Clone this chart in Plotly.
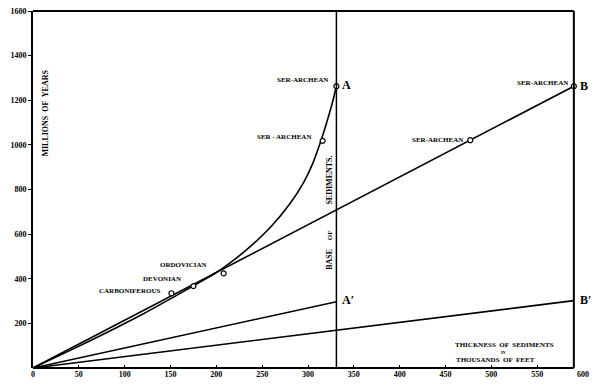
import plotly.graph_objects as go

# ---- data ----
x_ticks = [0, 50, 100, 150, 200, 250, 300, 350, 400, 450, 500, 550, 600]
y_ticks = [200, 400, 600, 800, 1000, 1200, 1400, 1600]

curve_x = [0, 40, 80, 120, 150, 180, 200, 220, 240, 260, 280, 295, 305, 313, 320, 326, 331]
curve_y = [0, 78, 158, 242, 310, 380, 428, 487, 555, 635, 735, 830, 915, 1005, 1095, 1180, 1263]

lineB_x = [0, 590]
lineB_y = [0, 1263]
lineA2_x = [0, 331]
lineA2_y = [0, 297]
lineB2_x = [0, 590]
lineB2_y = [0, 302]

pts_x = [151, 175, 208, 316, 331, 477, 590]
pts_y = [335, 367, 424, 1018, 1263, 1021, 1263]

base_x = 331
frame_right = 590
x_max = 600
y_max = 1600

FONT = "Liberation Serif"
fig = go.Figure()
lw = 1.6
for xs, ys, shape in [(curve_x, curve_y, "spline"), (lineB_x, lineB_y, "linear"),
                      (lineA2_x, lineA2_y, "linear"), (lineB2_x, lineB2_y, "linear")]:
    fig.add_trace(go.Scatter(x=xs, y=ys, mode="lines",
                             line=dict(color="black", width=lw, shape=shape, smoothing=0.8),
                             hoverinfo="skip", showlegend=False))
fig.add_trace(go.Scatter(x=pts_x, y=pts_y, mode="markers",
                         marker=dict(symbol="circle", size=5, color="white", line=dict(color="black", width=1.2)),
                         showlegend=False, cliponaxis=False))

# frame (paper refs so the edges are not clipped) and base line
fr = frame_right / x_max
shapes = [
    dict(type="line", xref="paper", yref="paper", x0=0, x1=fr, y0=1, y1=1, line=dict(color="black", width=2)),
    dict(type="line", xref="paper", yref="paper", x0=0, x1=fr, y0=0, y1=0, line=dict(color="black", width=2)),
    dict(type="line", xref="paper", yref="paper", x0=fr, x1=fr, y0=0, y1=1, line=dict(color="black", width=2)),
    dict(type="line", xref="x", yref="y", x0=base_x, x1=base_x, y0=0, y1=y_max, line=dict(color="black", width=1.5)),
]

def ann(text, x, y, size=7, xanchor="center", angle=0):
    return dict(text=text, x=x, y=y, xref="x", yref="y", showarrow=False, xanchor=xanchor,
                yanchor="middle", textangle=angle,
                font=dict(family=FONT, size=size, color="black", weight="bold"))

annotations = [
    ann("SER-ARCHEAN", 324, 1289, xanchor="right"),
    ann("A", 335, 1270, size=12, xanchor="left"),
    ann("SER - ARCHEAN", 305, 1035, xanchor="right"),
    ann("SER-ARCHEAN", 586, 1277, xanchor="right"),
    ann("B", 594, 1265, size=12, xanchor="left"),
    ann("SER-ARCHEAN", 471, 1023, xanchor="right"),
    ann("ORDOVICIAN", 164, 463),
    ann("DEVONIAN", 141, 400),
    ann("CARBONIFEROUS", 106, 343),
    ann("A′", 335, 303, size=12, xanchor="left"),
    ann("B′", 594, 306, size=12, xanchor="left"),
    ann("MILLIONS  OF  YEARS", 14, 1144, size=8, angle=-90),
    ann("SEDIMENTS.", 324, 840, size=8, angle=-90),
    ann("OF", 324, 595, size=7, angle=-90),
    ann("BASE", 324, 485, size=8, angle=-90),
    ann("THICKNESS  OF  SEDIMENTS", 514, 104, size=7),
    ann("IN", 513, 70, size=4),
    ann("THOUSANDS  OF  FEET", 505, 34, size=7),
]

# page body has an 8px margin, so the figure is sized to fill the rest of the window
fig.update_layout(
    width=592, height=378, autosize=False,
    margin=dict(l=25, r=17, t=3, b=18, autoexpand=False),
    paper_bgcolor="white", plot_bgcolor="white",
    shapes=shapes, annotations=annotations, showlegend=False,
    xaxis=dict(range=[0, x_max], tickvals=x_ticks, ticktext=[str(v) for v in x_ticks],
               showgrid=False, zeroline=False, showline=False, ticks="inside", ticklen=3,
               tickcolor="black", tickwidth=1, automargin=False, ticklabeloverflow="allow",
               tickfont=dict(family=FONT, size=8, color="black", weight="bold")),
    yaxis=dict(range=[0, y_max], tickvals=y_ticks, ticktext=[str(v) for v in y_ticks],
               showgrid=False, zeroline=False, showline=True, linecolor="black", linewidth=2,
               ticks="outside", ticklen=3, tickcolor="black", tickwidth=1, automargin=False,
               ticklabeloverflow="allow",
               tickfont=dict(family=FONT, size=8, color="black", weight="bold")),
)

fig.write_html("out.html")
